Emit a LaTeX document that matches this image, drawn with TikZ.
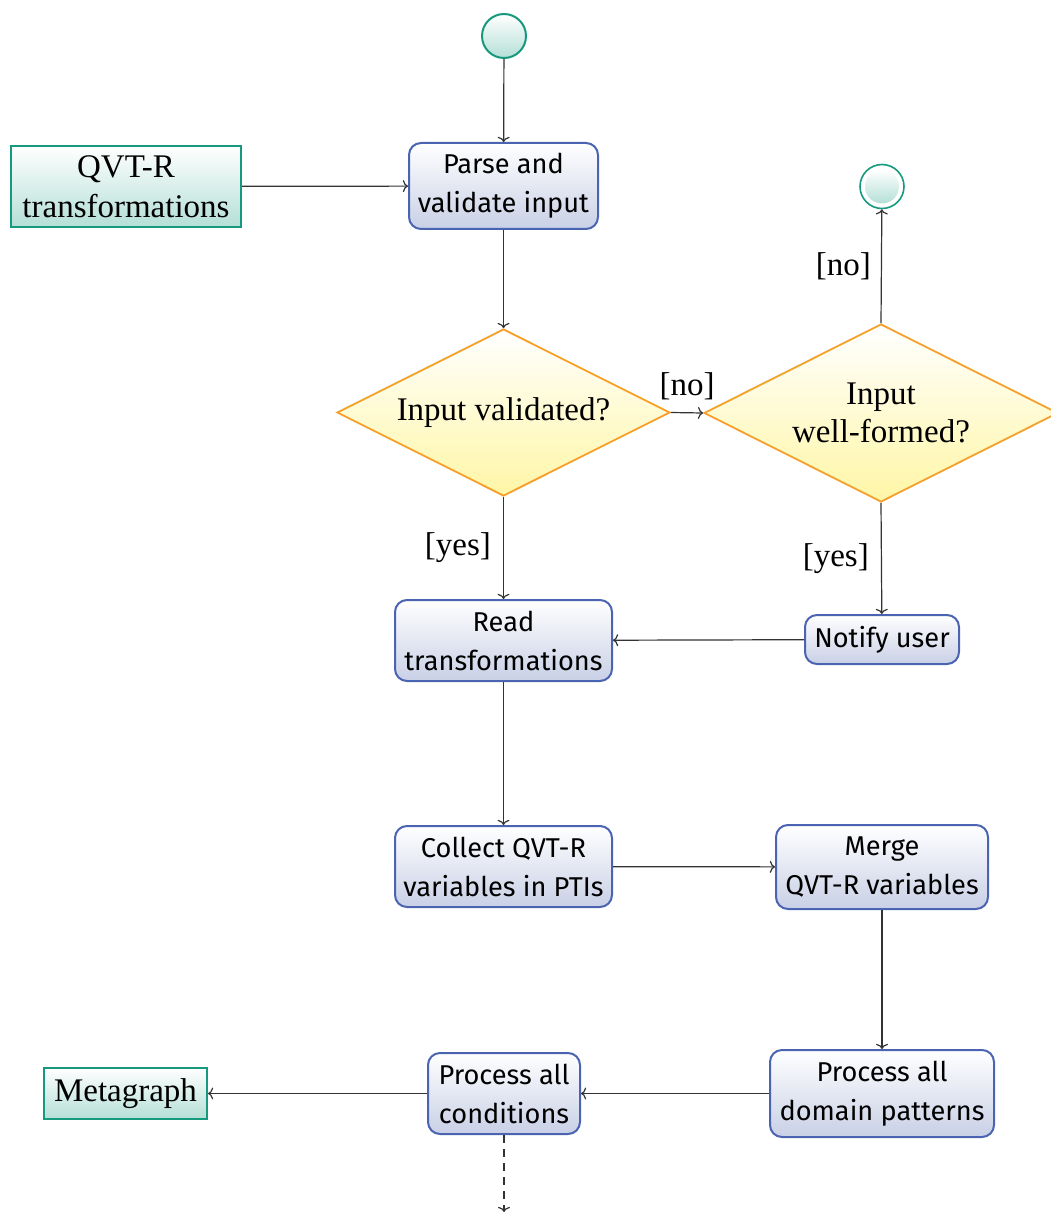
\documentclass[tikz,border=0pt]{standalone}
\usepackage{fontspec}
\setmainfont{Liberation Serif}
\newfontfamily\boxfont{Fira Sans}
\usetikzlibrary{shapes.geometric,arrows.meta}
\definecolor{actborder}{HTML}{4A64B2}
\definecolor{actfill}{HTML}{C9D0E6}
\definecolor{objborder}{HTML}{16997F}
\definecolor{objfill}{HTML}{B4DFD6}
\definecolor{decborder}{HTML}{F5A02A}
\definecolor{decfill}{HTML}{FFF6A6}
\definecolor{flowline}{HTML}{333333}
\tikzset{
  action/.style={draw=actborder, line width=1pt, rounded corners=6pt,
    top color=white, bottom color=actfill, align=center,
    font=\boxfont\fontsize{13.6}{19.5}\selectfont, inner sep=0pt},
  object/.style={draw=objborder, line width=1pt, rectangle,
    top color=white, bottom color=objfill, align=center,
    font=\fontsize{16.5}{20}\selectfont, inner sep=0pt},
  decision/.style={draw=decborder, line width=0.9pt, diamond, aspect=2,
    top color=white, bottom color=decfill, align=center,
    font=\fontsize{16.5}{19}\selectfont, inner sep=0pt},
  initial/.style={circle, draw=objborder, line width=1pt,
    top color=white, bottom color=objfill, minimum size=22pt, inner sep=0pt},
  finalring/.style={circle, draw=objborder, line width=0.8pt, fill=white,
    minimum size=22pt, inner sep=0pt},
  finaldot/.style={circle, top color=white, bottom color=objfill,
    minimum size=17pt, inner sep=0pt},
  flow/.style={draw=flowline, line width=0.6pt, -{To[length=2.6pt,width=6pt]}},
  guard/.style={font=\fontsize{16.5}{19}\selectfont, inner sep=0pt},
}
\begin{document}
\begin{tikzpicture}[x=0.5pt, y=-0.5pt]
\useasboundingbox (0,0) rectangle (1050,1214);

% nodes
\node[initial] (start) at (504,36) {};
\node[action, minimum width=94.5pt, minimum height=43pt] (parse) at (503.5,186) {Parse and\\validate input};
\node[object, minimum width=115pt, minimum height=40.5pt] (qvt) at (126,186.5) {QVT-R\\transformations};
\node[decision, minimum width=166.5pt, minimum height=83.5pt] (valid) at (503.5,412.5) {Input validated?};
\node[decision, minimum width=177pt, minimum height=89pt] (wf) at (881,413) {Input\\well-formed?};
\node[finalring] (final) at (882,186.5) {};
\node[finaldot] (finalin) at (final) {};
\node[action, minimum width=108.5pt, minimum height=40.5pt] (read) at (503.5,640.5) {Read\\transformations};
\node[action, minimum width=77pt, minimum height=24.5pt] (notify) at (882,639.5) {Notify user};
\node[action, minimum width=108.5pt, minimum height=40.5pt] (collect) at (503.5,866.5) {Collect QVT-R\\variables in PTIs};
\node[action, minimum width=106pt, minimum height=42pt] (merge) at (882,867) {Merge\\QVT-R variables};
\node[action, minimum width=112pt, minimum height=43.5pt] (domain) at (882,1093.5) {Process all\\domain patterns};
\node[action, minimum width=76pt, minimum height=40.5pt] (cond) at (504,1093.5) {Process all\\conditions};
\node[object, minimum width=81.5pt, minimum height=25.5pt] (meta) at (125.5,1093.5) {Metagraph};
\coordinate (cont) at (504,1212);

% control and object flows
\draw[flow] (start) -- (parse);
\draw[flow] (qvt) -- (parse);
\draw[flow] (parse) -- (valid);
\draw[flow] (valid.east) -- node[guard, above=6pt] {[no]} (wf.west);
\draw[flow] (wf.north) -- node[guard, left=5pt, pos=0.5] {[no]} (final);
\draw[flow] (valid.south) -- node[guard, left=6pt] {[yes]} (read);
\draw[flow] (wf.south) -- node[guard, left=6pt] {[yes]} (notify);
\draw[flow] (notify) -- (read);
\draw[flow] (read) -- (collect);
\draw[flow] (collect) -- (merge);
\draw[flow] (merge) -- (domain);
\draw[flow] (domain) -- (cond);
\draw[flow] (cond) -- (meta);
\draw[flow, dashed, dash pattern=on 4pt off 3pt] (cond) -- (cont);
\end{tikzpicture}
\end{document}
